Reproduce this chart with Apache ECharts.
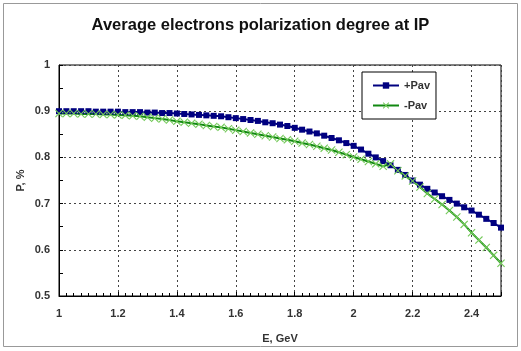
<!DOCTYPE html>
<html>
<head>
<meta charset="utf-8">
<script src="https://cdn.jsdelivr.net/npm/echarts@6/dist/echarts.min.js"></script>
<style>
  html, body { margin: 0; padding: 0; background: #fff; }
  #chart { width: 521px; height: 351px; }
</style>
</head>
<body>
<div id="chart"></div>
<script>
// beam energy, GeV
const energy = [
  1.000, 1.025, 1.050, 1.075, 1.100, 1.125, 1.150, 1.175, 1.200, 1.225,
  1.250, 1.275, 1.300, 1.325, 1.350, 1.375, 1.400, 1.425, 1.450, 1.475,
  1.500, 1.525, 1.550, 1.575, 1.600, 1.625, 1.650, 1.675, 1.700, 1.725,
  1.750, 1.775, 1.800, 1.825, 1.850, 1.875, 1.900, 1.925, 1.950, 1.975,
  2.000, 2.025, 2.050, 2.075, 2.100, 2.125, 2.150, 2.175, 2.200, 2.225,
  2.250, 2.275, 2.300, 2.325, 2.350, 2.375, 2.400, 2.425, 2.450, 2.475,
  2.500
];

// +Pav
const plusPav = [
  0.900, 0.900, 0.900, 0.900, 0.900, 0.899, 0.899, 0.899, 0.899, 0.898,
  0.898, 0.898, 0.897, 0.897, 0.896, 0.896, 0.895, 0.894, 0.893, 0.892,
  0.891, 0.890, 0.889, 0.887, 0.885, 0.883, 0.881, 0.879, 0.876, 0.874,
  0.871, 0.868, 0.864, 0.860, 0.856, 0.852, 0.847, 0.842, 0.837, 0.831,
  0.825, 0.817, 0.808, 0.800, 0.792, 0.783, 0.773, 0.762, 0.750, 0.741,
  0.732, 0.724, 0.716, 0.708, 0.700, 0.692, 0.685, 0.676, 0.667, 0.658,
  0.648
];

// -Pav
const minusPav = [
  0.895, 0.895, 0.895, 0.894, 0.894, 0.894, 0.893, 0.893, 0.892, 0.891,
  0.890, 0.889, 0.887, 0.885, 0.883, 0.881, 0.878, 0.876, 0.874, 0.872,
  0.869, 0.867, 0.865, 0.862, 0.859, 0.856, 0.853, 0.850, 0.847, 0.844,
  0.841, 0.838, 0.835, 0.831, 0.828, 0.824, 0.820, 0.816, 0.811, 0.806,
  0.801, 0.796, 0.791, 0.786, 0.781, 0.786, 0.771, 0.760, 0.749, 0.736,
  0.722, 0.710, 0.698, 0.685, 0.671, 0.655, 0.637, 0.621, 0.605, 0.588,
  0.571
];

const crossSymbol = 'path://M0,1L1,0L5,4L9,0L10,1L6,5L10,9L9,10L5,6L1,10L0,9L4,5Z';
const labelFont = { color: '#333', fontWeight: 'bold', fontSize: 11, fontFamily: 'Liberation Sans, Arial, sans-serif' };
const gridLine = { show: true, lineStyle: { color: '#444', type: [2, 3], width: 1 } };

const chart = echarts.init(document.getElementById('chart'));
chart.setOption({
  backgroundColor: '#fff',
  animation: false,
  title: {
    text: 'Average electrons polarization degree at IP',
    left: 'center',
    top: 12,
    textStyle: { fontSize: 16.5, fontWeight: 'bold', color: '#111', fontFamily: 'Liberation Sans, Arial, sans-serif' }
  },
  graphic: [{
    type: 'rect',
    shape: { x: 3.5, y: 3.5, width: 514, height: 343 },
    style: { fill: 'none', stroke: '#999', lineWidth: 1 },
    silent: true
  }],
  legend: {
    orient: 'vertical',
    left: 362,
    top: 72,
    padding: [8, 6, 8, 10],
    itemGap: 9,
    itemWidth: 26,
    itemHeight: 8,
    borderColor: '#000',
    borderWidth: 1,
    backgroundColor: '#fff',
    textStyle: labelFont,
    data: ['+Pav', '-Pav']
  },
  grid: {
    left: 59, right: 20, top: 65, bottom: 55,
    show: true, borderColor: '#000', borderWidth: 1
  },
  xAxis: {
    type: 'value',
    min: 1, max: 2.5, interval: 0.2,
    name: 'E, GeV',
    nameLocation: 'middle',
    nameGap: 37,
    nameTextStyle: labelFont,
    axisLine: { show: true, lineStyle: { color: '#000' } },
    axisTick: { show: true, inside: true, length: 4, lineStyle: { color: '#000' } },
    minorTick: { show: true, splitNumber: 8, length: 3, lineStyle: { color: '#000' } },
    axisLabel: Object.assign({ margin: 12, showMaxLabel: false }, labelFont),
    splitLine: gridLine
  },
  yAxis: {
    type: 'value',
    min: 0.5, max: 1, interval: 0.1,
    name: 'P, %',
    nameLocation: 'middle',
    nameGap: 33,
    nameMoveOverlap: false,
    nameTextStyle: labelFont,
    axisLine: { show: true, lineStyle: { color: '#000' } },
    axisTick: { show: true, inside: true, length: 4, lineStyle: { color: '#000' } },
    minorTick: { show: true, splitNumber: 2, length: 4, lineStyle: { color: '#000' } },
    axisLabel: Object.assign({ margin: 9 }, labelFont),
    splitLine: gridLine
  },
  series: [
    {
      name: '+Pav',
      type: 'line',
      data: energy.map((e, i) => [e, plusPav[i]]),
      symbol: 'rect',
      symbolSize: 6,
      showAllSymbol: true,
      lineStyle: { color: '#000080', width: 2 },
      itemStyle: { color: '#000080' }
    },
    {
      name: '-Pav',
      type: 'line',
      data: energy.map((e, i) => [e, minusPav[i]]),
      symbol: crossSymbol,
      symbolSize: 8,
      showAllSymbol: true,
      lineStyle: { color: '#118811', width: 2 },
      itemStyle: { color: '#74c95a' }
    }
  ]
});
</script>
</body>
</html>
